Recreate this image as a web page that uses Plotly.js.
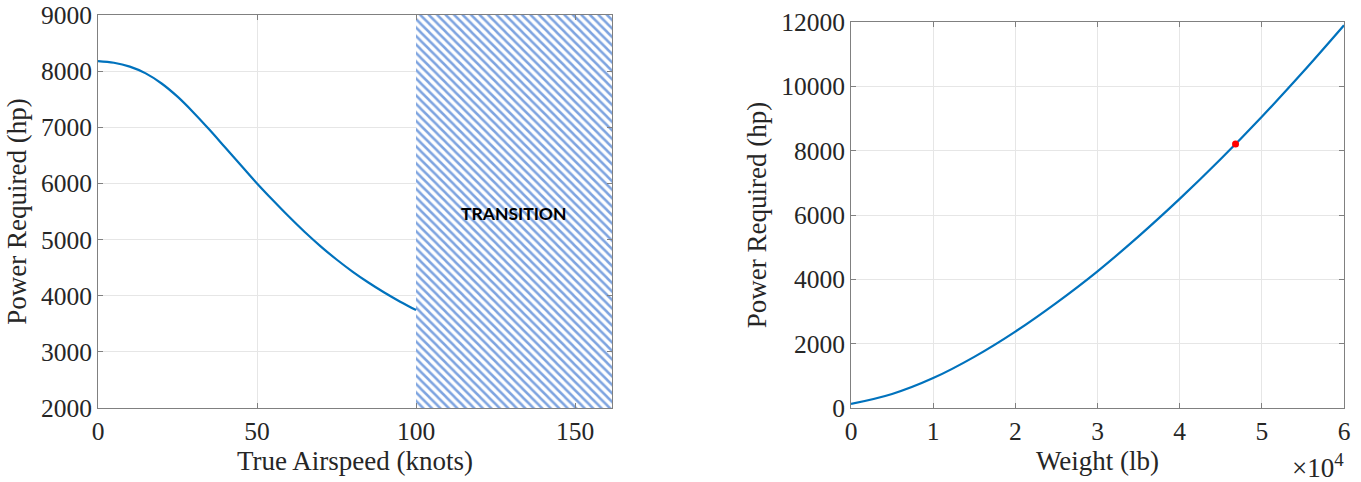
<!DOCTYPE html>
<html>
<head>
<meta charset="utf-8">
<script src="https://cdn.plot.ly/plotly-3.0.1.min.js"></script>
<style>
  html, body { margin: 0; padding: 0; background: #ffffff; }
  #chart { width: 1361px; height: 482px; }
</style>
</head>
<body>
<div id="chart"></div>
<script>
// Power required vs. true airspeed (hover / low-speed branch)
const airspeedKts = [0, 5, 10, 15, 20, 25, 30, 35, 40, 45, 50, 55, 60, 65, 70, 75, 80, 85, 90, 95, 100];
const powerVsSpeedHp = [8180, 8150, 8080, 7960, 7780, 7545, 7265, 6960, 6640, 6320, 6000, 5700, 5410, 5135, 4880, 4645, 4430, 4235, 4057, 3894, 3744];

// Transition band (knots) and its vertical extent (hp)
const transitionStartKts = 100;
const transitionEndKts = 161.6;
const transitionLowHp = 2000;
const transitionHighHp = 9000;
const transitionLabel = 'TRANSITION';

// Power required vs. gross weight
const weightLb = [0, 5000, 10000, 15000, 20000, 25000, 30000, 35000, 40000, 45000, 50000, 55000, 60000];
const powerVsWeightHp = [125, 435, 930, 1590, 2375, 3270, 4250, 5335, 6500, 7740, 9055, 10445, 11900];

// Design point
const designWeightLb = [46800];
const designPowerHp = [8210];

// Axis ticks
const speedTicks = [0, 50, 100, 150];
const powerTicksLeft = [2000, 3000, 4000, 5000, 6000, 7000, 8000, 9000];
const weightTickVals = [0, 10000, 20000, 30000, 40000, 50000, 60000];
const weightTickText = ['0', '1', '2', '3', '4', '5', '6'];
const powerTicksRight = [0, 2000, 4000, 6000, 8000, 10000, 12000];

const lineBlue = '#0072BD';
const serif = 'Liberation Serif, Times New Roman, serif';
const textGray = '#262626';

const traces = [
  {
    type: 'bar',
    x: [(transitionStartKts + transitionEndKts) / 2],
    y: [transitionHighHp - transitionLowHp],
    base: [transitionLowHp],
    width: [transitionEndKts - transitionStartKts],
    xaxis: 'x', yaxis: 'y',
    marker: {
      color: '#ffffff',
      line: { width: 0 },
      pattern: { shape: '\\', fgcolor: '#7ea4e0', bgcolor: '#ffffff', size: 6, solidity: 0.42 }
    },
    hoverinfo: 'skip',
    showlegend: false
  },
  {
    type: 'scatter', mode: 'lines',
    x: airspeedKts, y: powerVsSpeedHp,
    xaxis: 'x', yaxis: 'y',
    line: { color: lineBlue, width: 2.2, shape: 'spline', smoothing: 1 },
    showlegend: false
  },
  {
    type: 'scatter', mode: 'lines',
    x: weightLb, y: powerVsWeightHp,
    xaxis: 'x2', yaxis: 'y2',
    line: { color: lineBlue, width: 2.2, shape: 'spline', smoothing: 1 },
    showlegend: false
  },
  {
    type: 'scatter', mode: 'markers',
    x: designWeightLb, y: designPowerHp,
    xaxis: 'x2', yaxis: 'y2',
    marker: { color: '#ff0000', size: 7, symbol: 'circle' },
    showlegend: false
  }
];

const axisCommon = {
  showline: true, linecolor: '#808080', linewidth: 1,
  mirror: 'ticks', ticks: 'inside', ticklen: 5, tickcolor: '#808080',
  showgrid: true, gridcolor: '#e6e6e6', gridwidth: 1,
  zeroline: false,
  tickformat: 'd',
  tickfont: { family: serif, size: 25.5, color: textGray },
  fixedrange: true
};

const titleFont = { family: serif, size: 27, color: textGray };

const layout = {
  width: 1361, height: 482,
  margin: { l: 0, r: 0, t: 0, b: 0 },
  paper_bgcolor: '#ffffff', plot_bgcolor: '#ffffff',
  showlegend: false,
  bargap: 0,
  xaxis: Object.assign({}, axisCommon, {
    domain: [98 / 1361, 612 / 1361], range: [0, transitionEndKts],
    tickvals: speedTicks, anchor: 'y',
    title: { text: 'True Airspeed (knots)', font: titleFont, standoff: 4 }
  }),
  yaxis: Object.assign({}, axisCommon, {
    domain: [1 - 408 / 482, 1 - 15 / 482], range: [transitionLowHp, transitionHighHp],
    tickvals: powerTicksLeft, anchor: 'x',
    title: { text: 'Power Required (hp)', font: titleFont, standoff: 6 }
  }),
  xaxis2: Object.assign({}, axisCommon, {
    domain: [851 / 1361, 1344 / 1361], range: [0, 60000],
    tickvals: weightTickVals, ticktext: weightTickText, anchor: 'y2',
    title: { text: 'Weight (lb)', font: titleFont, standoff: 4 }
  }),
  yaxis2: Object.assign({}, axisCommon, {
    domain: [1 - 408 / 482, 1 - 22 / 482], range: [0, 12000],
    tickvals: powerTicksRight, anchor: 'x2',
    title: { text: 'Power Required (hp)', font: titleFont, standoff: 6 }
  }),
  annotations: [
    {
      xref: 'x', yref: 'y',
      x: (transitionStartKts + transitionEndKts) / 2, y: 5470,
      text: '<b>' + transitionLabel + '</b>',
      showarrow: false,
      font: { family: 'Lato, Open Sans, sans-serif', size: 17.5, color: '#000000' }
    },
    {
      xref: 'paper', yref: 'paper',
      x: 1346 / 1361, y: 1 - 466 / 482,
      xanchor: 'right', yanchor: 'middle',
      text: '×10<sup>4</sup>',
      showarrow: false,
      font: { family: serif, size: 27, color: textGray }
    }
  ]
};

Plotly.newPlot('chart', traces, layout, { displayModeBar: false, staticPlot: true });
</script>
</body>
</html>
